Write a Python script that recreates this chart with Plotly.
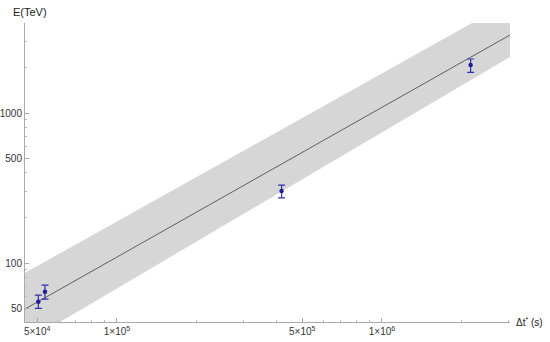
import plotly.graph_objects as go

# measured points: time delay (s), energy (TeV), error bar ends
dt = [5.05e4, 5.35e4, 4.18e5, 2.16e6]
energy = [55.2, 64.4, 302, 2089]
energy_hi = [61.2, 71.3, 331, 2291]
energy_lo = [49.9, 57.5, 272, 1867]

fit_t = [4.5e4, 3.04e6]
fit_e = [49.4, 3311]
band_hi_e = [86, 5510]
band_lo_e = [29.5, 2360]

x_ticks = [5e4, 1e5, 5e5, 1e6]
x_ticktext = ["5×10<sup>4</sup>", "1×10<sup>5</sup>", "5×10<sup>5</sup>", "1×10<sup>6</sup>"]
x_minor = [6e4, 7e4, 8e4, 9e4, 2e5, 3e5, 4e5, 6e5, 7e5, 8e5, 9e5, 2e6, 3e6]
y_ticks = [50, 100, 500, 1000]
y_minor = [60, 70, 80, 90, 200, 300, 400, 600, 700, 800, 900, 2000, 3000]

err_plus = [h - e for h, e in zip(energy_hi, energy)]
err_minus = [e - l for e, l in zip(energy, energy_lo)]

fig = go.Figure()

# grey band as a closed polygon
fig.add_trace(go.Scatter(
    x=fit_t + fit_t[::-1], y=band_hi_e + band_lo_e[::-1],
    fill="toself", fillcolor="rgb(214,214,214)", line=dict(width=0),
    mode="lines", hoverinfo="skip", showlegend=False))

fig.add_trace(go.Scatter(
    x=fit_t, y=fit_e, mode="lines",
    line=dict(color="rgb(95,95,95)", width=1), showlegend=False))

fig.add_trace(go.Scatter(
    x=dt, y=energy, mode="markers",
    marker=dict(color="rgb(30,30,150)", size=4.5),
    error_y=dict(type="data", symmetric=False, array=err_plus, arrayminus=err_minus,
                 color="rgb(50,50,170)", thickness=1.2, width=3.5),
    showlegend=False))

axis_font = dict(family="Liberation Sans, Arial", size=10, color="#333")

fig.update_xaxes(
    type="log", range=[4.653, 6.483], automargin=False,
    tickvals=x_ticks, ticktext=x_ticktext, tickfont=axis_font,
    ticks="inside", ticklen=4, tickcolor="#aaa",
    minor=dict(tickvals=x_minor, ticks="inside", ticklen=2, tickcolor="#bbb"),
    showline=True, linecolor="#aaa", linewidth=1,
    showgrid=False, zeroline=False)

fig.update_yaxes(
    type="log", range=[1.607, 3.6], automargin=False,
    tickvals=y_ticks, ticktext=[str(v) for v in y_ticks], tickfont=axis_font,
    ticks="inside", ticklen=4, tickcolor="#aaa",
    minor=dict(tickvals=y_minor, ticks="inside", ticklen=2, tickcolor="#bbb"),
    showline=True, linecolor="#aaa", linewidth=1,
    showgrid=False, zeroline=False)

fig.add_annotation(text="E(TeV)", xref="paper", yref="paper", x=0.01, y=1.0,
                   xanchor="center", yanchor="bottom", yshift=3, showarrow=False,
                   font=dict(family="Liberation Sans, Arial", size=11, color="#222"))
fig.add_annotation(text="Δt<sup>*</sup> (s)", xref="paper", yref="paper", x=1.0, y=0,
                   xanchor="left", yanchor="middle", xshift=4, showarrow=False,
                   font=dict(family="Liberation Sans, Arial", size=10, color="#222"))

fig.update_layout(
    width=550, height=342,
    margin=dict(l=25, r=40, t=23, b=20),
    plot_bgcolor="white", paper_bgcolor="white")

# drop the page's default body margin so the figure sits at the window corner
fig.write_html("out.html", config={"displayModeBar": False},
               post_script="document.body.style.margin='0';")
